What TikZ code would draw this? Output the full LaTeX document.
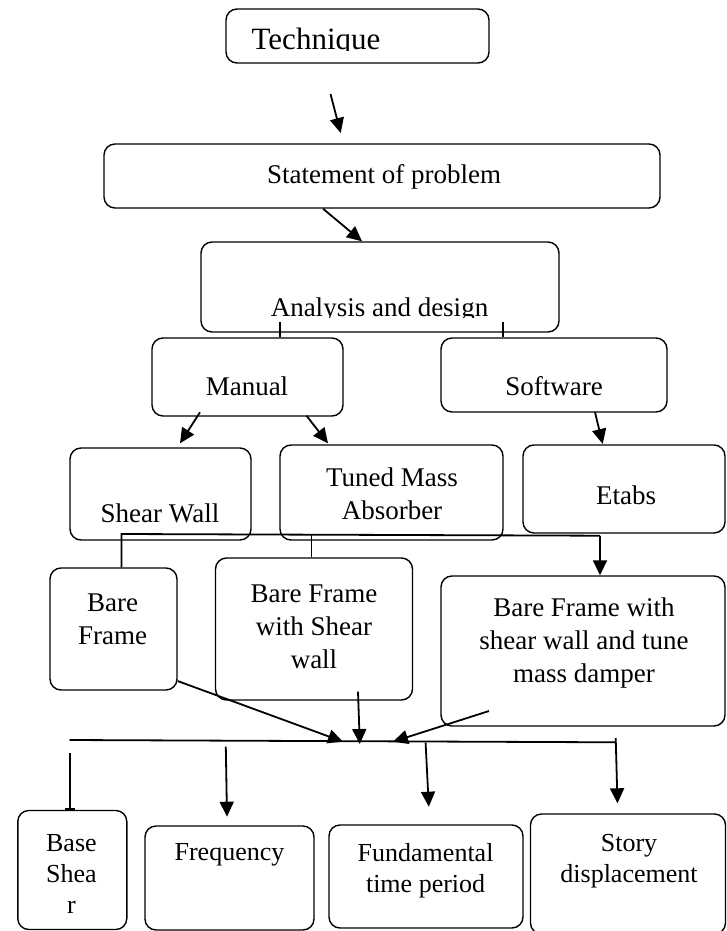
\documentclass[tikz,border=0pt]{standalone}
\usepackage{fontspec}
\setmainfont{Liberation Serif}
\usetikzlibrary{arrows.meta}

\begin{document}
\begin{tikzpicture}[x=1pt,y=-1pt,
    box/.style={draw, line width=1.4pt, rounded corners=11pt},
    lbl/.style={align=center, font=\fontsize{27}{33}\selectfont},
    res/.style={align=center, font=\fontsize{26}{31}\selectfont},
    ln/.style={line width=1.8pt},
    arr/.style={line width=1.8pt, -{Triangle[length=15pt,width=14pt]}}]
    %% \draw[help lines] (0,0) grid (727,931);
    \useasboundingbox (0,0) rectangle (727,931);
    % boxes
    \node[box, minimum width=263pt, minimum height=54pt]  (tech)   at (357.5,36)  {};
    \node[box, minimum width=556pt, minimum height=64pt]  (stmt)   at (382,176)   {};
    \node[box, minimum width=358pt, minimum height=90pt]  (anal)   at (380,287)   {};
    \node[box, minimum width=191pt, minimum height=78pt]  (manual) at (247.5,377) {};
    \node[box, minimum width=226pt, minimum height=74pt]  (soft)   at (554,375)   {};
    \node[box, minimum width=181pt, minimum height=92pt]  (shear)  at (160.5,494) {};
    \node[box, minimum width=223pt, minimum height=95pt]  (tma)    at (391.5,492.5) {};
    \node[box, minimum width=202pt, minimum height=88pt]  (etabs)  at (624,489)   {};
    \node[box, minimum width=127pt, minimum height=122pt] (bare)   at (113.5,629) {};
    \node[box, minimum width=197pt, minimum height=142pt] (bfsw)   at (314,629)   {};
    \node[box, minimum width=284pt, minimum height=150pt] (bfall)  at (583,651)   {};
    \node[box, minimum width=109pt, minimum height=119pt] (base)   at (72.3,870)  {};
    \node[box, minimum width=169pt, minimum height=104pt] (freq)   at (229.5,878) {};
    \node[box, minimum width=194pt, minimum height=103pt] (fund)   at (426,876.5) {};
    \node[box, minimum width=195pt, minimum height=120pt] (story)  at (628,874)   {};
    % texts
    \begin{scope}
      \clip (226,9) rectangle (489,50.5);
      \node[lbl, font=\fontsize{31}{36}\selectfont, anchor=base] (techtxt) at (316,50) {Technique};
    \end{scope}
    \begin{scope}
      \clip (201,242) rectangle (559,317);
      \node[lbl, anchor=base] (analtxt) at (379.5,316) {Analysis and design};
    \end{scope}
    \node[lbl] (stmttxt)   at (384,176.7)  {Statement of problem};
    \node[lbl] (manualtxt) at (247,386)    {Manual};
    \node[lbl] (softtxt)   at (554,386)    {Software};
    \node[lbl] (sheartxt)  at (160,513)    {Shear Wall};
    \node[lbl] (tmatxt)    at (392,494)    {Tuned Mass\\Absorber};
    \node[lbl] (etabstxt)  at (626,495)    {Etabs};
    \node[lbl] (baretxt)   at (112.7,619.4) {Bare\\Frame};
    \node[lbl] (bfswtxt)   at (314,626.7)  {Bare Frame\\with Shear\\wall};
    \node[lbl] (bfalltxt)  at (584,643)    {Bare Frame with\\shear wall and tune\\mass damper};
    \node[res] (basetxt)   at (71.4,874)   {Base\\Shea\\r};
    \node[res] (freqtxt)   at (229.5,855)  {Frequency};
    \node[res] (fundtxt)   at (425.6,871)  {Fundamental\\time period};
    \node[res] (storytxt)  at (629,861)    {Story\\displacement};
    % connectors
    \coordinate (t1) at (330.5,94);
    \coordinate (t2) at (340.7,133);
    \draw[arr] (t1) -- (t2);
    \coordinate (s1) at (323,208);
    \coordinate (s2) at (362,242);
    \draw[arr] (stmt.south -| s1) -- (s2 |- anal.north);
    \coordinate (m1) at (280,322);
    \coordinate (m2) at (503,322);
    \draw[ln] (m1) -- (m1 |- manual.north);
    \draw[ln] (m2) -- (m2 |- soft.north);
    \coordinate (k1) at (200,412.3);
    \coordinate (k2) at (180,443.3);
    \coordinate (k3) at (306.5,415.7);
    \coordinate (k4) at (328,443.3);
    \coordinate (k5) at (595,412.3);
    \coordinate (k6) at (602.7,444);
    \draw[arr] (k1) -- (k2);
    \draw[arr] (k3) -- (k4);
    \draw[arr] (k5) -- (k6);
    \coordinate (h1) at (121.5,534);
    \coordinate (h2) at (600,535.7);
    \coordinate (h3) at (311.5,535);
    \draw[ln] (bare.north -| h1) -- (h1) -- (h2);
    \draw[ln] (h3) -- (bfsw.north -| h3);
    \draw[arr] (h2) -- (bfall.north -| h2);
    \coordinate (f1) at (177.6,681);
    \coordinate (f2) at (358,691.7);
    \coordinate (f3) at (489,711);
    \coordinate (c1) at (343,741.7);
    \coordinate (c2) at (359.8,744);
    \coordinate (c3) at (393,741.7);
    \draw[arr] (f1) -- (c1);
    \draw[arr] (f2) -- (c2);
    \draw[arr] (f3) -- (c3);
    \coordinate (r0) at (69.5,740);
    \coordinate (r4) at (615.7,742.3);
    \draw[ln] (r0) -- (r4);
    \coordinate (r1) at (70,753.3);
    \draw[ln, -{Bar[width=10pt]}] (r1) -- (r1 |- base.north);
    \coordinate (q1) at (225.8,746.7);
    \coordinate (q2) at (227,816.7);
    \coordinate (q3) at (425.6,742.7);
    \coordinate (q4) at (428.8,806.7);
    \coordinate (q5) at (615.7,738);
    \coordinate (q6) at (617.5,803.3);
    \draw[arr] (q1) -- (q2);
    \draw[arr] (q3) -- (q4);
    \draw[arr] (q5) -- (q6);
\end{tikzpicture}
\end{document}
